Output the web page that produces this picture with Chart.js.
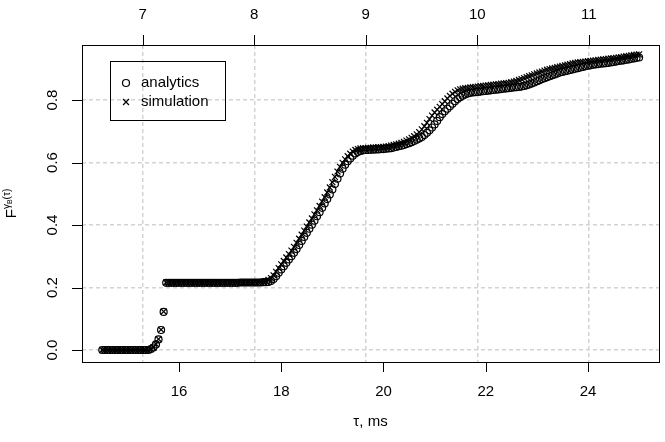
<!DOCTYPE html>
<html>
<head>
<meta charset="utf-8">
<script src="https://cdn.jsdelivr.net/npm/chart.js@4.4.0/dist/chart.umd.min.js"></script>
<style>
  html, body { margin: 0; padding: 0; background: #fff; }
</style>
</head>
<body>
<canvas id="myChart" width="665" height="442"></canvas>
<script>
// sampling grid of tau (ms)
var tauStart = 14.5;
var tauStep = 0.05;

// F(tau), one row = 0.5 ms
var analytics = [
  0, 0, 0, 0, 0, 0, 0, 0, 0, 0,                                              // 14.5
  0, 0, 0, 0, 0, 0, 0, 0, 0, 0.003,                                          // 15.0
  0.008, 0.018, 0.034, 0.064, 0.122, 0.215, 0.215, 0.215, 0.215, 0.215,      // 15.5
  0.215, 0.215, 0.215, 0.215, 0.215, 0.215, 0.215, 0.215, 0.215, 0.215,      // 16.0
  0.215, 0.215, 0.215, 0.215, 0.215, 0.215, 0.215, 0.215, 0.215, 0.215,      // 16.5
  0.215, 0.215, 0.215, 0.215, 0.216, 0.216, 0.216, 0.216, 0.216, 0.216,      // 17.0
  0.216, 0.216, 0.216, 0.217, 0.217, 0.218, 0.221, 0.227, 0.236, 0.247,      // 17.5
  0.258, 0.268, 0.279, 0.290, 0.300, 0.311, 0.323, 0.336, 0.349, 0.362,      // 18.0
  0.375, 0.388, 0.401, 0.414, 0.428, 0.441, 0.455, 0.469, 0.483, 0.498,      // 18.5
  0.514, 0.531, 0.548, 0.565, 0.580, 0.593, 0.604, 0.613, 0.622, 0.629,      // 19.0
  0.634, 0.637, 0.639, 0.640, 0.640, 0.641, 0.641, 0.642, 0.642, 0.643,      // 19.5
  0.643, 0.644, 0.645, 0.646, 0.648, 0.650, 0.652, 0.654, 0.656, 0.659,      // 20.0
  0.662, 0.665, 0.669, 0.673, 0.677, 0.682, 0.688, 0.695, 0.703, 0.712,      // 20.5
  0.722, 0.733, 0.745, 0.755, 0.764, 0.772, 0.780, 0.788, 0.796, 0.803,      // 21.0
  0.809, 0.814, 0.818, 0.821, 0.823, 0.824, 0.825, 0.826, 0.827, 0.828,      // 21.5
  0.829, 0.830, 0.831, 0.832, 0.833, 0.834, 0.835, 0.836, 0.837, 0.838,      // 22.0
  0.839, 0.840, 0.841, 0.842, 0.843, 0.845, 0.847, 0.850, 0.853, 0.856,      // 22.5
  0.860, 0.863, 0.867, 0.870, 0.873, 0.876, 0.879, 0.882, 0.885, 0.888,      // 23.0
  0.890, 0.892, 0.894, 0.896, 0.898, 0.900, 0.902, 0.904, 0.906, 0.908,      // 23.5
  0.910, 0.911, 0.913, 0.914, 0.915, 0.916, 0.917, 0.918, 0.919, 0.920,      // 24.0
  0.922, 0.923, 0.925, 0.926, 0.927, 0.929, 0.930, 0.932, 0.933, 0.935,      // 24.5
  0.936                                                                      // 25.0
];

var simulation = [
  0, 0, 0, 0, 0, 0, 0, 0, 0, 0,                                              // 14.5
  0, 0, 0, 0, 0, 0, 0, 0, 0, 0.003,                                          // 15.0
  0.008, 0.019, 0.035, 0.065, 0.123, 0.216, 0.216, 0.216, 0.216, 0.216,      // 15.5
  0.216, 0.216, 0.216, 0.216, 0.216, 0.216, 0.216, 0.216, 0.216, 0.216,      // 16.0
  0.216, 0.216, 0.216, 0.216, 0.216, 0.216, 0.216, 0.216, 0.216, 0.216,      // 16.5
  0.216, 0.216, 0.216, 0.216, 0.216, 0.216, 0.216, 0.216, 0.216, 0.216,      // 17.0
  0.217, 0.217, 0.217, 0.218, 0.220, 0.224, 0.230, 0.239, 0.250, 0.262,      // 17.5
  0.274, 0.285, 0.296, 0.307, 0.318, 0.330, 0.343, 0.356, 0.369, 0.382,      // 18.0
  0.395, 0.408, 0.421, 0.434, 0.447, 0.461, 0.475, 0.489, 0.504, 0.520,      // 18.5
  0.537, 0.554, 0.571, 0.586, 0.599, 0.610, 0.620, 0.628, 0.635, 0.640,      // 19.0
  0.643, 0.645, 0.646, 0.646, 0.647, 0.647, 0.648, 0.648, 0.649, 0.649,      // 19.5
  0.650, 0.651, 0.652, 0.654, 0.656, 0.658, 0.660, 0.663, 0.666, 0.670,      // 20.0
  0.674, 0.679, 0.684, 0.690, 0.697, 0.706, 0.716, 0.727, 0.739, 0.750,      // 20.5
  0.760, 0.769, 0.778, 0.787, 0.796, 0.805, 0.813, 0.820, 0.826, 0.831,      // 21.0
  0.834, 0.836, 0.838, 0.839, 0.840, 0.841, 0.842, 0.843, 0.844, 0.845,      // 21.5
  0.846, 0.847, 0.848, 0.849, 0.850, 0.851, 0.852, 0.853, 0.854, 0.855,      // 22.0
  0.857, 0.859, 0.861, 0.864, 0.867, 0.870, 0.873, 0.876, 0.879, 0.882,      // 22.5
  0.885, 0.888, 0.891, 0.894, 0.897, 0.899, 0.901, 0.903, 0.905, 0.907,      // 23.0
  0.909, 0.911, 0.913, 0.915, 0.917, 0.919, 0.920, 0.921, 0.922, 0.923,      // 23.5
  0.924, 0.925, 0.926, 0.927, 0.928, 0.929, 0.930, 0.931, 0.932, 0.933,      // 24.0
  0.934, 0.935, 0.936, 0.937, 0.939, 0.940, 0.941, 0.943, 0.944, 0.945,      // 24.5
  0.946                                                                      // 25.0
];

var bottomTicks = [16, 18, 20, 22, 24];
var topTicks = [7, 8, 9, 10, 11];
var yTicks = [0, 0.2, 0.4, 0.6, 0.8];

var FONT = '"Liberation Sans", Arial, Helvetica, sans-serif';

function toPoints(values) {
  return values.map(function (v, i) {
    return { x: +(tauStart + i * tauStep).toFixed(2), y: v };
  });
}

function fixedTicks(list) {
  return function (scale) {
    scale.ticks = list.map(function (v) { return { value: v }; });
  };
}

// box, solid tick marks, rotated y labels, y title and legend (R style)
var rStyle = {
  id: 'rStyle',
  afterDraw: function (chart) {
    var ctx = chart.ctx;
    var a = chart.chartArea;
    var sx = chart.scales.x, sx2 = chart.scales.x2, sy = chart.scales.y;
    ctx.save();
    ctx.strokeStyle = '#000';
    ctx.lineWidth = 1;
    ctx.strokeRect(a.left + 0.5, a.top + 0.5, a.right - a.left, a.bottom - a.top);

    ctx.beginPath();
    sx.ticks.forEach(function (t) {
      var p = Math.round(sx.getPixelForValue(t.value)) + 0.5;
      ctx.moveTo(p, a.bottom); ctx.lineTo(p, a.bottom + 10);
    });
    sx2.ticks.forEach(function (t) {
      var p = Math.round(sx2.getPixelForValue(t.value)) + 0.5;
      ctx.moveTo(p, a.top); ctx.lineTo(p, a.top - 10);
    });
    sy.ticks.forEach(function (t) {
      var p = Math.round(sy.getPixelForValue(t.value)) + 0.5;
      ctx.moveTo(a.left, p); ctx.lineTo(a.left - 10, p);
    });
    ctx.stroke();

    // y tick labels, parallel to the axis
    ctx.fillStyle = '#000';
    ctx.font = '15px ' + FONT;
    ctx.textAlign = 'center';
    ctx.textBaseline = 'middle';
    sy.ticks.forEach(function (t) {
      var p = sy.getPixelForValue(t.value);
      ctx.save();
      ctx.translate(a.left - 29, p);
      ctx.rotate(-Math.PI / 2);
      ctx.fillText(t.label, 0, 0);
      ctx.restore();
    });

    // y axis title F^{gamma_B(tau)}
    ctx.save();
    ctx.translate(15.5, (a.top + a.bottom) / 2);
    ctx.rotate(-Math.PI / 2);
    ctx.textAlign = 'left';
    ctx.textBaseline = 'alphabetic';
    var parts = [
      { t: 'F', size: 15, dy: 0 },
      { t: 'γ', size: 10, dy: -6 },
      { t: 'B', size: 7, dy: -3.5 },
      { t: '(τ)', size: 10, dy: -6 }
    ];
    var total = 0;
    parts.forEach(function (p) {
      ctx.font = p.size + 'px ' + FONT;
      p.w = ctx.measureText(p.t).width;
      total += p.w;
    });
    var cx = -total / 2;
    parts.forEach(function (p) {
      ctx.font = p.size + 'px ' + FONT;
      ctx.fillText(p.t, cx, p.dy);
      cx += p.w;
    });
    ctx.restore();

    // legend
    ctx.strokeRect(110.5, 61.5, 115, 59);
    ctx.font = '15px ' + FONT;
    ctx.textAlign = 'left';
    ctx.textBaseline = 'middle';
    chart.data.datasets.forEach(function (ds, i) {
      var y = 83 + i * 19;
      ctx.save();
      ctx.fillStyle = 'rgba(0,0,0,0)';
      ctx.strokeStyle = '#000';
      ctx.lineWidth = ds.borderWidth;
      Chart.helpers.drawPoint(ctx, {
        pointStyle: ds.pointStyle,
        radius: ds.pointRadius,
        borderWidth: ds.borderWidth,
        rotation: 0
      }, 126, y);
      ctx.restore();
      ctx.fillStyle = '#000';
      ctx.fillText(ds.label, 141, y);
    });
    ctx.restore();
  }
};

var ctx = document.getElementById('myChart').getContext('2d');
var myChart = new Chart(ctx, {
  type: 'scatter',
  data: {
    datasets: [{
      label: 'analytics',
      data: toPoints(analytics),
      pointStyle: 'circle',
      pointRadius: 3.5,
      borderWidth: 1.2,
      borderColor: '#000',
      backgroundColor: 'rgba(0,0,0,0)',
      order: 1
    }, {
      label: 'simulation',
      data: toPoints(simulation),
      pointStyle: 'crossRot',
      pointRadius: 4.2,
      borderWidth: 1.2,
      borderColor: '#000',
      backgroundColor: 'rgba(0,0,0,0)',
      order: 0
    }]
  },
  options: {
    responsive: false,
    animation: false,
    devicePixelRatio: 1,
    layout: { padding: { left: 0, right: 6, top: 0, bottom: 0 } },
    plugins: {
      legend: { display: false },
      tooltip: { enabled: false }
    },
    scales: {
      x: {
        type: 'linear',
        position: 'bottom',
        min: 14.103,
        max: 25.389,
        afterBuildTicks: fixedTicks(bottomTicks),
        afterFit: function (s) { s.height = 80; },
        grid: { display: false, drawTicks: false },
        border: { display: false },
        ticks: { color: '#000', padding: 21, maxRotation: 0, font: { family: FONT, size: 15 } },
        title: {
          display: true,
          text: 'τ, ms',
          color: '#000',
          font: { family: FONT, size: 15 },
          padding: { top: 0, bottom: 11 }
        }
      },
      x2: {
        type: 'linear',
        position: 'top',
        min: 6.455,
        max: 11.63,
        afterBuildTicks: fixedTicks(topTicks),
        afterFit: function (s) { s.height = 45; },
        grid: { color: '#d3d3d3', lineWidth: 1.5, drawTicks: false },
        border: { display: false, dash: [4, 3] },
        ticks: { color: '#000', padding: 21, maxRotation: 0, font: { family: FONT, size: 15 } }
      },
      y: {
        type: 'linear',
        position: 'left',
        min: -0.0384,
        max: 0.976,
        afterBuildTicks: fixedTicks(yTicks),
        afterFit: function (s) { s.width = 82; },
        grid: { color: '#d3d3d3', lineWidth: 1.5, drawTicks: false },
        border: { display: false, dash: [4, 3] },
        ticks: {
          display: false,
          callback: function (v) { return v.toFixed(1); }
        }
      }
    }
  },
  plugins: [rStyle]
});
</script>
</body>
</html>
